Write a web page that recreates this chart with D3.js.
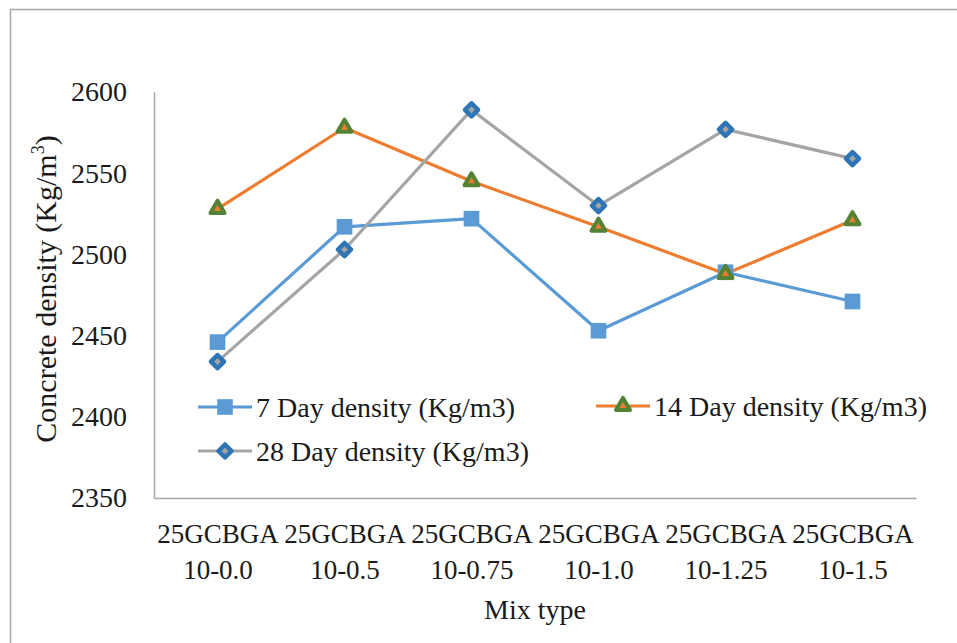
<!DOCTYPE html>
<html>
<head>
<meta charset="utf-8">
<script src="https://cdn.jsdelivr.net/npm/d3@7"></script>
<style>
  body { margin: 0; background: #fff; }
  text { font-family: "Liberation Serif", "Times New Roman", serif; fill: #1a1a1a; }
</style>
</head>
<body>
<svg id="chart" width="957" height="643"></svg>
<script>
// ------------------------------
// data
// ------------------------------
var categories = ["25GCBGA|10-0.0", "25GCBGA|10-0.5", "25GCBGA|10-0.75",
                  "25GCBGA|10-1.0", "25GCBGA|10-1.25", "25GCBGA|10-1.5"];
var day7  = [2446, 2517, 2522, 2453, 2489, 2471];
var day14 = [2528, 2578, 2545, 2517, 2488, 2521];
var day28 = [2434, 2503, 2589, 2530, 2577, 2559];
var yTicks = [2350, 2400, 2450, 2500, 2550, 2600];

var seriesNames = ["7 Day density (Kg/m3)", "14 Day density (Kg/m3)", "28 Day density (Kg/m3)"];

var svg = d3.select("#chart");

// outer frame (only left / top edges show in the picture)
svg.append("rect")
    .attr("x", 10.5).attr("y", 9.5)
    .attr("width", 980).attr("height", 680)
    .attr("fill", "none").attr("stroke", "#a6a6a6").attr("stroke-width", 1.5);

// plot box
var plotL = 154, plotR = 916, plotT = 92, plotB = 498;

var x = d3.scalePoint().domain(categories).range([plotL, plotR]).padding(0.5);
var y = d3.scaleLinear().domain([2350, 2600]).range([plotB, plotT]);

// y axis
var yAxis = svg.append("g")
    .attr("transform", "translate(" + plotL + ",0)")
    .call(d3.axisLeft(y).tickValues(yTicks).tickSize(0).tickPadding(27).tickFormat(d3.format("d")))
    .attr("font-family", null);
yAxis.selectAll("text").attr("font-size", 28);
yAxis.select(".domain").attr("stroke", "#a6a6a6").attr("stroke-width", 1.5);

// x axis, labels split in two lines
var xAxis = svg.append("g")
    .attr("transform", "translate(0," + plotB + ")")
    .call(d3.axisBottom(x).tickSize(0).tickFormat(""))
    .attr("font-family", null);
xAxis.select(".domain").attr("stroke", "#a6a6a6").attr("stroke-width", 1.5);
xAxis.selectAll(".tick").each(function(d) {
    var parts = d.split("|");
    var t = d3.select(this).append("text")
        .attr("text-anchor", "middle").attr("font-size", 27);
    t.append("tspan").attr("x", 0).attr("y", 45).text(parts[0]);
    t.append("tspan").attr("x", 0).attr("y", 81).text(parts[1]);
});

// axis titles
svg.append("text")
    .attr("x", (plotL + plotR) / 2).attr("y", 619)
    .attr("text-anchor", "middle").attr("font-size", 28)
    .text("Mix type");

var yt = svg.append("text")
    .attr("transform", "translate(56,289) rotate(-90)")
    .attr("text-anchor", "middle").attr("font-size", 30);
yt.append("tspan").text("Concrete density (Kg/m");
yt.append("tspan").attr("font-size", 18).attr("dy", -12).text("3");
yt.append("tspan").attr("dy", 12).text(")");

// ------------------------------
// series: line + marker styling
// ------------------------------
var series = [
    {name: seriesNames[0], values: day7,  line: "#5b9bd5",
     shape: d3.symbolSquare, size: 245, fill: "#5b9bd5", stroke: "none", sw: 0, rot: 0,
     lx: 198, ly: 407},
    {name: seriesNames[1], values: day14, line: "#ed7d31",
     shape: d3.symbolTriangle, size: 85, fill: "#ed7d31", stroke: "#548235", sw: 4, rot: 0,
     lx: 596, ly: 406},
    {name: seriesNames[2], values: day28, line: "#a5a5a5",
     shape: d3.symbolSquare, size: 85, fill: "#a5a5a5", stroke: "#2e75b6", sw: 4.5, rot: 45,
     lx: 198, ly: 451}
];

var line = d3.line()
    .x(function(d, i) { return x(categories[i]); })
    .y(function(d) { return y(d); });

series.forEach(function(s) {
    svg.append("path")
        .datum(s.values)
        .attr("d", line)
        .attr("fill", "none")
        .attr("stroke", s.line)
        .attr("stroke-width", 3.2)
        .attr("stroke-linejoin", "round");
});

series.forEach(function(s) {
    svg.selectAll(null)
        .data(s.values)
      .enter().append("path")
        .attr("d", d3.symbol().type(s.shape).size(s.size))
        .attr("transform", function(d, i) {
            return "translate(" + x(categories[i]) + "," + y(d) + ") rotate(" + s.rot + ")";
        })
        .attr("fill", s.fill)
        .attr("stroke", s.stroke)
        .attr("stroke-width", s.sw)
        .attr("stroke-linejoin", "round");
});

// legend
series.forEach(function(s) {
    var g = svg.append("g").attr("transform", "translate(" + s.lx + "," + s.ly + ")");
    g.append("line")
        .attr("x1", 0).attr("x2", 54)
        .attr("stroke", s.line).attr("stroke-width", 3.2);
    g.append("path")
        .attr("d", d3.symbol().type(s.shape).size(s.size))
        .attr("transform", "translate(27,0) rotate(" + s.rot + ")")
        .attr("fill", s.fill).attr("stroke", s.stroke).attr("stroke-width", s.sw)
        .attr("stroke-linejoin", "round");
    g.append("text")
        .attr("x", 58).attr("y", 0).attr("dy", "0.35em")
        .attr("font-size", 28)
        .text(s.name);
});
</script>
</body>
</html>
